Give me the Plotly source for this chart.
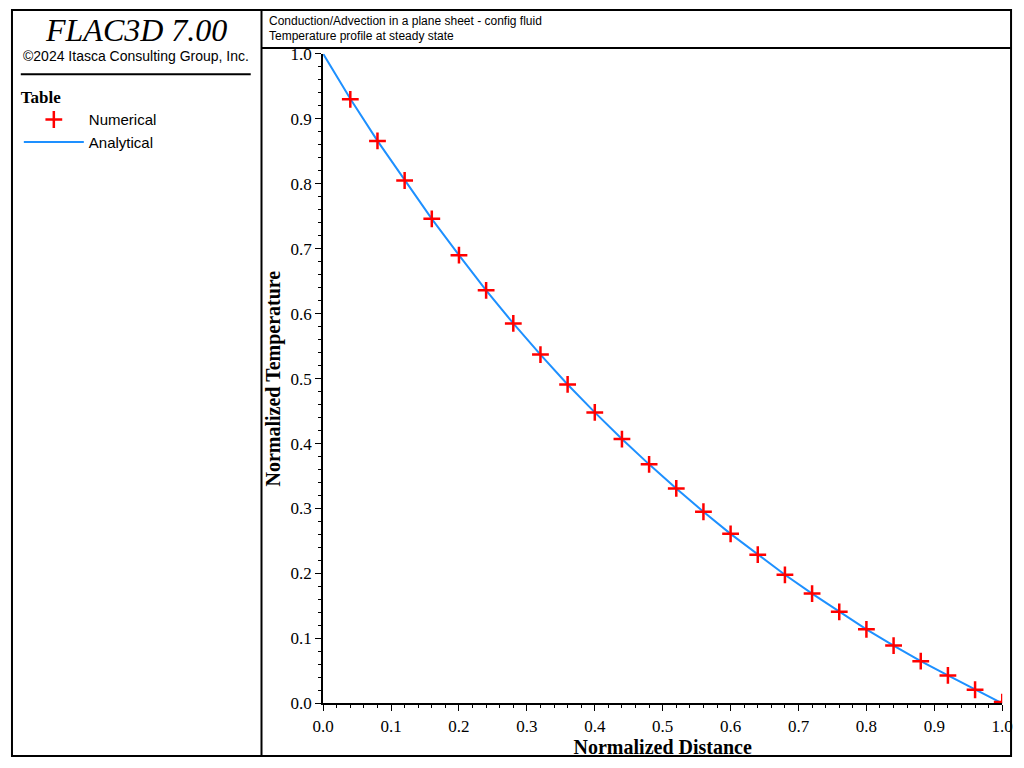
import plotly.graph_objects as go

num_x = [0.04,0.08,0.12,0.16,0.20,0.24,0.28,0.32,0.36,0.40,0.44,0.48,0.52,0.56,0.60,0.64,0.68,0.72,0.76,0.80,0.84,0.88,0.92,0.96,1.00]
num_y = [0.930,0.866,0.805,0.746,0.690,0.636,0.585,0.537,0.491,0.448,0.407,0.368,0.331,0.295,0.261,0.229,0.198,0.169,0.141,0.114,0.089,0.065,0.043,0.021,0.002]
ana_x = [0.0] + num_x
ana_y = [1.0,0.931,0.866,0.805,0.746,0.690,0.636,0.585,0.537,0.491,0.448,0.407,0.368,0.331,0.295,0.261,0.229,0.198,0.169,0.141,0.114,0.089,0.065,0.043,0.021,0.0]

W, H = 1024, 768
def px(x): return x / W
def py(y): return 1 - y / H

fig = go.Figure()
fig.add_trace(go.Scatter(x=ana_x, y=ana_y, mode="lines", name="Analytical",
                         line=dict(color="#1E90FF", width=2)))
fig.add_trace(go.Scatter(x=num_x, y=num_y, mode="markers", name="Numerical",
                         marker=dict(symbol="cross-thin", size=12, line=dict(color="#FF0000", width=2.5), color="#FF0000")))

serif = "Liberation Serif"
sans = "Liberation Sans"
axfont = dict(family=serif, size=17, color="black")
fig.update_layout(
    width=W, height=H, margin=dict(l=0, r=0, t=0, b=0),
    paper_bgcolor="white", plot_bgcolor="white",
    xaxis=dict(domain=[px(319), px(1013)], range=[0, 1.0], tickvals=[i/10 for i in range(11)],
               ticktext=[f"{i/10:.1f}" for i in range(11)], tickfont=axfont,
               ticks="outside", ticklen=6, tickcolor="black", showline=True, linecolor="black", linewidth=2,
               showgrid=False, zeroline=False,
               minor=dict(dtick=0.02, ticks="outside", ticklen=3, tickcolor="black"),
               title=dict(text="<b>Normalized Distance</b>", font=dict(family=serif, size=20, color="black"), standoff=2)),
    yaxis=dict(domain=[py(712), py(46)], range=[0, 1.0], tickvals=[i/10 for i in range(11)],
               ticktext=[f"{i/10:.1f}" for i in range(11)], tickfont=axfont,
               ticks="outside", ticklen=6, tickcolor="black", showline=True, linecolor="black", linewidth=2,
               showgrid=False, zeroline=False,
               minor=dict(dtick=0.02, ticks="outside", ticklen=3, tickcolor="black"),
               title=dict(text="<b>Normalized Temperature</b>", font=dict(family=serif, size=20, color="black"), standoff=4)),
    legend=dict(x=px(8), y=py(74), xanchor="left", yanchor="top", traceorder="reversed",
                title=dict(text="<b>Table</b>", font=dict(family=serif, size=17, color="black")),
                font=dict(family=sans, size=15, color="black"), bgcolor="rgba(0,0,0,0)", itemwidth=60,
                tracegroupgap=0),
    showlegend=True,
)

shapes = [
    dict(type="rect", xref="paper", yref="paper", x0=px(1), x1=px(1022), y0=py(766), y1=py(1), line=dict(color="black", width=2)),
    dict(type="line", xref="paper", yref="paper", x0=px(256), x1=px(256), y0=py(766), y1=py(1), line=dict(color="black", width=2)),
    dict(type="line", xref="paper", yref="paper", x0=px(256), x1=px(1022), y0=py(40), y1=py(40), line=dict(color="black", width=2)),
    dict(type="line", xref="paper", yref="paper", x0=px(10), x1=px(245), y0=py(67), y1=py(67), line=dict(color="black", width=2)),
]
fig.update_layout(shapes=shapes)
def ann(x, y, text, font, xanchor="center"):
    fig.add_annotation(xref="paper", yref="paper", x=px(x), y=py(y), xanchor=xanchor, yanchor="middle",
                       text=text, showarrow=False, font=font)
ann(128, 22, "<i>FLAC3D 7.00</i>", dict(family=serif, size=32, color="black"))
ann(128, 48, "©2024 Itasca Consulting Group, Inc.", dict(family=sans, size=14, color="black"))
ann(262, 12, "Conduction/Advection in a plane sheet - config fluid", dict(family=sans, size=12, color="black"), "left")
ann(262, 28, "Temperature profile at steady state", dict(family=sans, size=12, color="black"), "left")
js = """
var s=document.createElement('style');
s.textContent='html,body{margin:0!important;padding:0!important;overflow:hidden!important;}';
document.head.appendChild(s);
var d=document.getElementById('{plot_id}');
d.style.position='fixed';d.style.left='0px';d.style.top='0px';d.style.margin='0';
var p=d.parentElement; if(p){p.style.margin='0';p.style.padding='0';}
"""
fig.write_html("out.html", config=dict(displayModeBar=False), post_script=js)
